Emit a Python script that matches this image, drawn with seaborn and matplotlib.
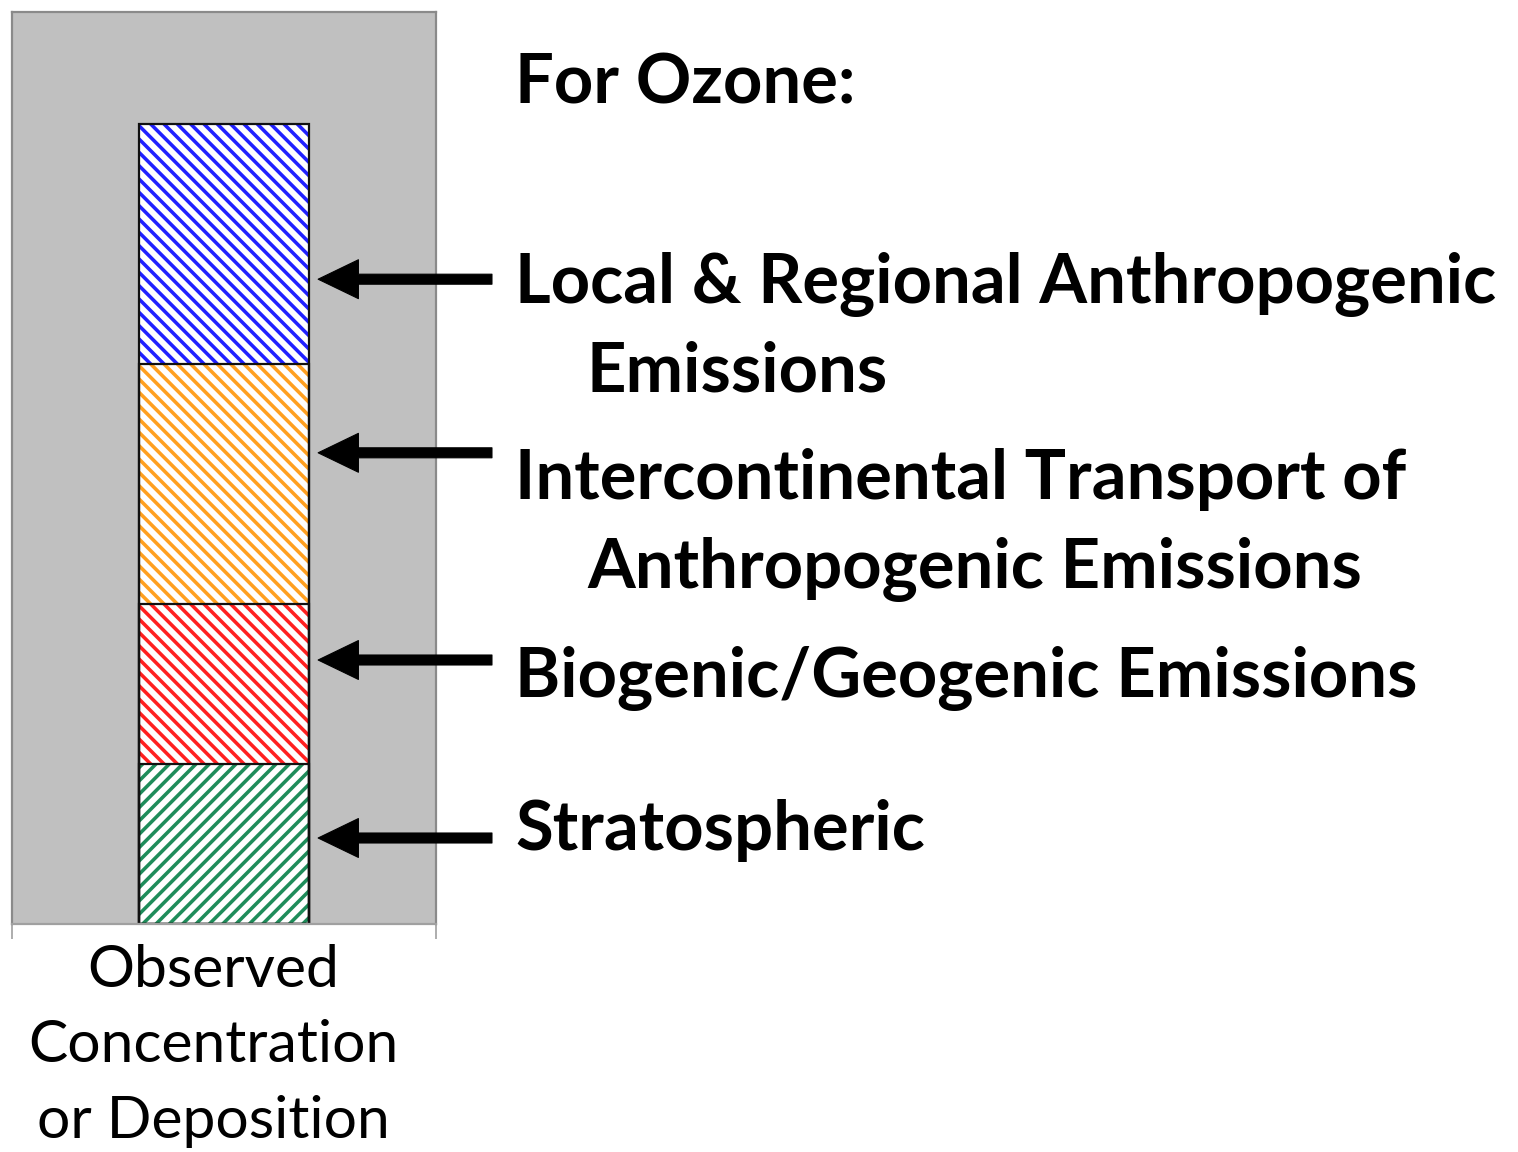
import matplotlib
matplotlib.use("Agg")
import matplotlib.pyplot as plt
import matplotlib.patches as mpatches
import seaborn as sns
import numpy as np

# Stacked contributions (bottom to top)
sources = ["Stratospheric", "Biogenic/Geogenic", "Intercontinental", "Local & Regional"]
values = [2.0, 2.0, 3.0, 3.0]
colors = ["#1e8c5a", "#ff2020", "#ffa020", "#2020ff"]
hatches = ["//", "\\\\", "\\\\", "\\\\"]
bar_label = "Observed\nConcentration\nor Deposition"

# label text lines (text, indented?, baseline in px from top)
label_lines = [
    ("For Ozone:", False, 103),
    ("Local & Regional Anthropogenic", False, 303),
    ("Emissions", True, 391),
    ("Intercontinental Transport of", False, 499),
    ("Anthropogenic Emissions", True, 588),
    ("Biogenic/Geogenic Emissions", False, 697),
    ("Stratospheric", False, 850),
]
arrow_y = [8.06, 5.89, 3.30, 1.075]

W, H = 1518, 1152
DPI = 80
PT = 100 / DPI  # keep sizes as if drawn at 100 dpi
HATCH_LW = 3.2

sns.set_style("white")
plt.rcParams["font.family"] = ["Lato", "DejaVu Sans"]
plt.rcParams["hatch.linewidth"] = HATCH_LW

fig = plt.figure(figsize=(W / DPI, H / DPI), dpi=DPI)
ax = fig.add_axes([12 / W, 1 - 924 / H, 424 / W, 912 / H])
ax.set_facecolor("#c0c0c0")

cum = np.cumsum(values)
# draw from the top segment down so lower segments cover upper totals
for i in range(len(values) - 1, -1, -1):
    n0 = len(ax.patches)
    sns.barplot(x=["obs"], y=[cum[i]], color="white", saturation=1,
                edgecolor=colors[i], linewidth=0, hatch=hatches[i],
                width=0.4, ax=ax)
    p = ax.patches[n0]
    p.set_facecolor("white")
    p.set_edgecolor(colors[i])
    if hasattr(p, "set_hatch_linewidth"):
        p.set_hatch_linewidth(HATCH_LW)
    outline = mpatches.Rectangle(p.get_xy(), p.get_width(), p.get_height(),
                                 fill=False, edgecolor="#111111", linewidth=1.6 * PT,
                                 zorder=p.get_zorder() + 0.1)
    ax.add_patch(outline)

ax.set_xlim(-0.5, 0.5)
ax.set_ylim(0, 11.4)
ax.set_yticks([])
ax.set_xticks([-0.5, 0.5])
ax.set_xticklabels(["", ""])
ax.tick_params(axis="x", direction="out", length=11 * PT, width=1.2 * PT,
               color="#a0a0a0", bottom=True)
ax.set_xlabel("")
ax.set_ylabel("")
for s in ax.spines.values():
    s.set_color("#8a8a8a")
    s.set_linewidth(1.6 * PT)
ax.spines["bottom"].set_color("#a0a0a0")

for yv in arrow_y:
    ax.annotate("", xy=(0.722, yv), xycoords=("axes fraction", "data"),
                xytext=(1.132, yv), textcoords=("axes fraction", "data"),
                arrowprops=dict(width=7.2 * PT, headwidth=28 * PT, headlength=29 * PT,
                                shrink=0, facecolor="black", edgecolor="black"),
                annotation_clip=False)

for text, indent, base in label_lines:
    x = 587 if indent else 515
    fig.text(x / W, 1 - base / H, text, fontsize=49.5 * PT, fontweight="bold",
             ha="left", va="baseline", color="black")

for k, line in enumerate(bar_label.split("\n")):
    fig.text(213 / W, 1 - (987 + 75.5 * k) / H, line, fontsize=42.3 * PT,
             ha="center", va="baseline", color="black")

fig.savefig("out.png", dpi=DPI, facecolor="white")
